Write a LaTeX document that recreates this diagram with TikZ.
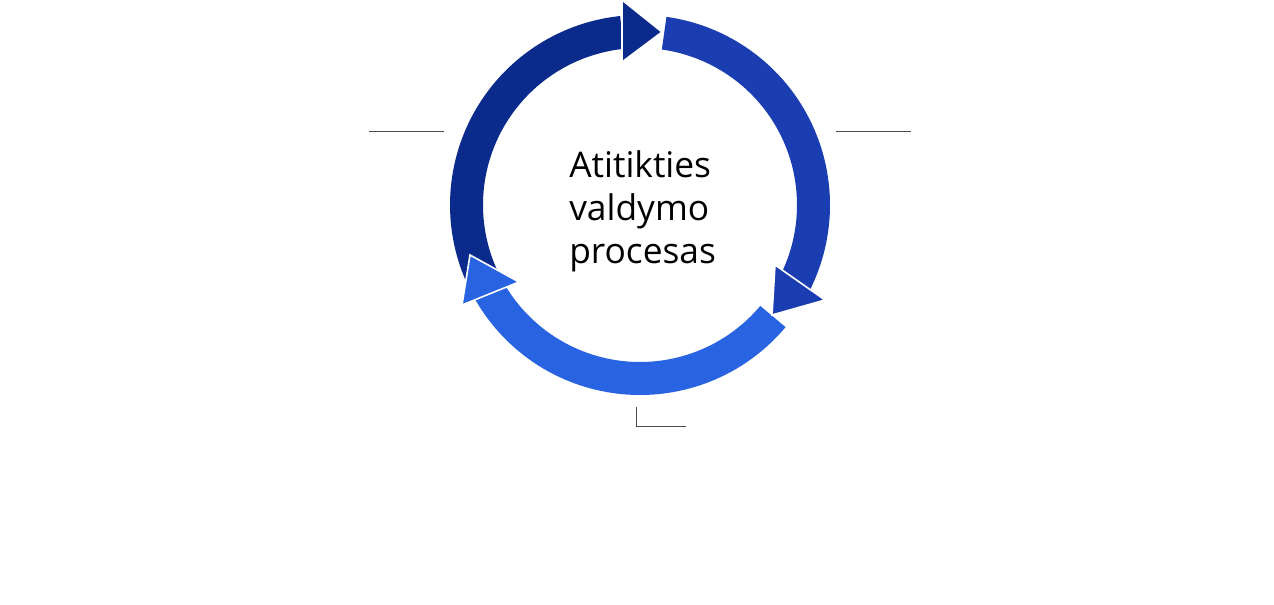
\documentclass[tikz,border=0pt]{standalone}
\usepackage{fontspec}
\setmainfont{Open Sans}
\definecolor{cdark}{HTML}{0B2B8C}
\definecolor{cmed}{HTML}{1A3EB2}
\definecolor{cbright}{HTML}{2864E2}
\begin{document}
\begin{tikzpicture}[x=0.75pt,y=-0.75pt,
  head/.style={draw=white,line width=1.2pt,line join=miter},
  leader/.style={draw=black!70,line width=0.5pt}]
\useasboundingbox (0,0) rectangle (1274,605);
\begin{scope}[shift={(640,205)}]
  \fill[cdark] (96:142.5pt) arc (96:205:142.5pt) -- (205:117.75pt) arc (205:96:117.75pt) -- cycle;
  \fill[cmed] (82:142.5pt) arc (82:-30:142.5pt) -- (-30:117.75pt) arc (-30:82:117.75pt) -- cycle;
  \fill[cbright] (-40:142.5pt) arc (-40:-155:142.5pt) -- (-155:117.75pt) arc (-155:-40:117.75pt) -- cycle;
\end{scope}
\fill[cdark,head] (622,0) -- (662,32) -- (622,62) -- cycle;
\fill[cmed,head] (775,265) -- (825,300) -- (772,315) -- cycle;
\fill[cbright,head] (470,255) -- (519,282) -- (462,305) -- cycle;
\node[anchor=north west,font=\fontsize{26.5pt}{32.5pt}\selectfont,align=left,inner sep=0] (t) at (569,150)
  {Atitikties\\valdymo\\procesas};
\coordinate (l1) at (369,131); \coordinate (l2) at (444,131);
\coordinate (r1) at (836,131); \coordinate (r2) at (911,131);
\coordinate (b1) at (636,407); \coordinate (b2) at (636,426); \coordinate (b3) at (686,426);
\draw[leader] (l1) -- (l2);
\draw[leader] (r1) -- (r2);
\draw[leader] (b1) -- (b2) -- (b3);
\end{tikzpicture}
\end{document}
